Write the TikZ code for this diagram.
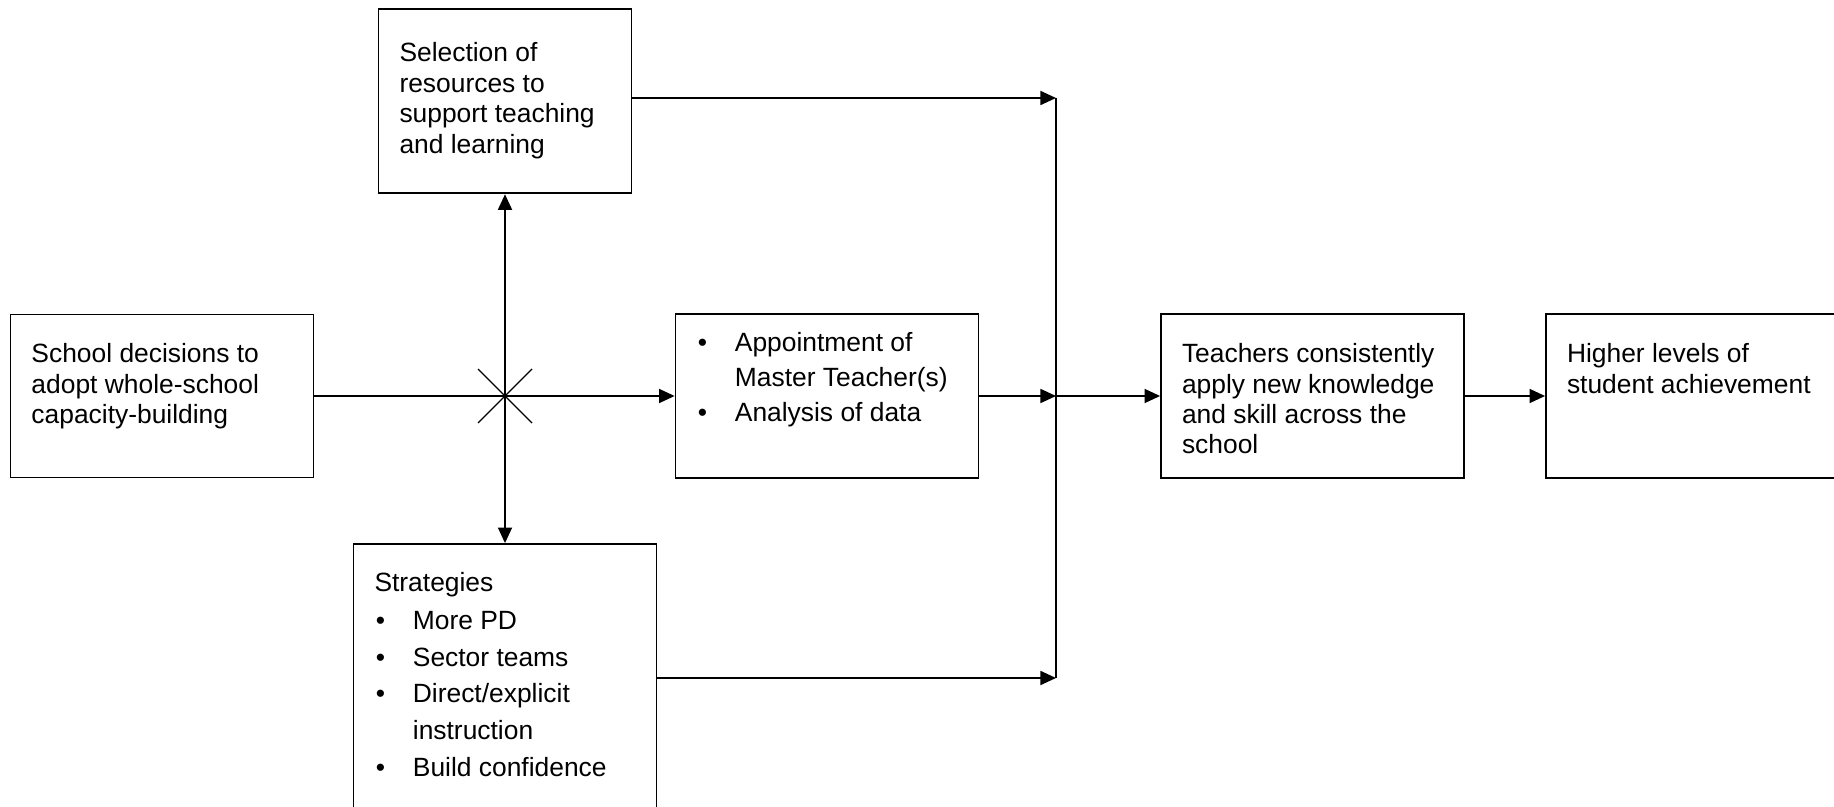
\documentclass[tikz,border=0pt]{standalone}
\usepackage{fontspec}
\setmainfont{Liberation Sans}
\usepackage{tikz}
\usetikzlibrary{positioning}
\usetikzlibrary{arrows.meta}

\newcommand{\cardtext}[3]{\parbox[c][#1][t]{#2}{\raggedright #3}}
\newcommand{\bitem}[1]{\par\hangindent=19.2pt\hangafter=1\noindent\makebox[19.2pt][l]{\hspace{0.7pt}\textbullet}#1}

\tikzset{
    card/.style={draw, line width=0.9pt, inner xsep=10.5pt, inner ysep=0pt, font=\fontsize{13.2}{15.2}\selectfont},
    thinline/.style={line width=0.7pt}
}

\begin{document}
\begin{tikzpicture}[>={Triangle[length=7.8pt,width=7pt]}, node distance=150pt, line width=0.9pt]
    \useasboundingbox (0,0) rectangle (917pt,-403.5pt);
    \node[card] (school) at (81pt,-198pt) {\cardtext{81.5pt}{130.5pt}{\rule{0pt}{24.2pt}School decisions to\\adopt whole-school\\capacity-building}};
    \coordinate[right of=school, xshift=21.5pt] (hub);
    \node[card, right of=school, xshift=182.5pt] (appt) {\cardtext{81.75pt}{130.5pt}{\fontsize{13.2}{17.5}\selectfont
        \bitem{\rule{0pt}{18.8pt}Appointment of\newline Master Teacher(s)}
        \bitem{Analysis of data}}};
    \coordinate[right of=appt, xshift=-35.5pt] (join);
    \node[card, right of=appt, xshift=92.75pt] (teach) {\cardtext{81.75pt}{130.5pt}{\rule{0pt}{24.2pt}Teachers consistently\\apply new knowledge\\and skill across the\\school}};
    \node[card, right of=teach, xshift=42.5pt] (high) {\cardtext{81.75pt}{130.5pt}{\rule{0pt}{24.2pt}Higher levels of\\student achievement}};
    \node[card, above of=hub, yshift=-2.7pt] (sel) {\cardtext{92pt}{105.5pt}{\rule{0pt}{26.3pt}Selection of\\resources to\\support teaching\\and learning}};
    \node[card, below of=hub, yshift=9pt] (strat) {\cardtext{134pt}{130.5pt}{\fontsize{13.2}{18.3}\selectfont
        \rule{0pt}{23.5pt}Strategies\vspace{1pt}
        \bitem{More PD}
        \bitem{Sector teams}
        \bitem{Direct/explicit\newline instruction}
        \bitem{Build confidence}}};
    \coordinate[above of=join, yshift=-1pt] (topend);
    \coordinate[below of=join, yshift=9pt] (botend);

    \draw[->] (school) -- (appt);
    \draw[<->] (sel) -- (strat);
    \draw[thinline] (hub) +(-13.5pt,-13.5pt) -- +(13.5pt,13.5pt);
    \draw[thinline] (hub) +(-13.5pt,13.5pt) -- +(13.5pt,-13.5pt);
    \draw[->] (sel.east |- topend) -- (topend);
    \draw[->] (strat) -- (botend);
    \draw[thinline] (topend) -- (botend);
    \draw[->] (appt) -- (join);
    \draw[->] (join) -- (teach);
    \draw[->] (teach) -- (high);
\end{tikzpicture}
\end{document}
